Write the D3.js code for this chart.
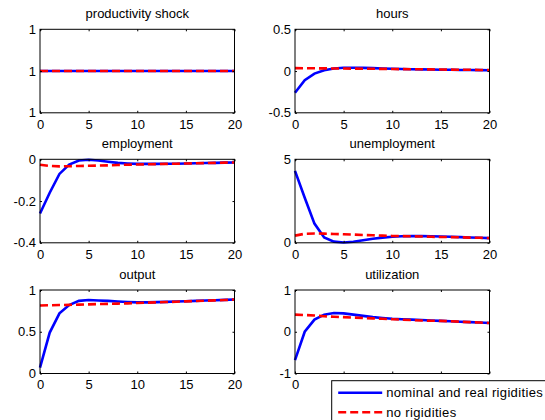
<!DOCTYPE html>
<html>
<head>
<meta charset="utf-8">
<script src="https://cdn.jsdelivr.net/npm/d3@7"></script>
<style>
  body { margin: 0; background: #fff; }
  svg { font-family: "Liberation Sans", Arial, sans-serif; }
</style>
</head>
<body>
<div id="chart"></div>
<script>
// quarters after the shock
const periods = [0,1,2,3,4,5,6,7,8,9,10,11,12,13,14,15,16,17,18,19,20];
const xTicks = [0, 5, 10, 15, 20];

const titles = ["productivity shock", "hours", "employment", "unemployment", "output", "utilization"];
const seriesNames = ["nominal and real rigidities", "no rigidities"];

// blue = nominal and real rigidities, red = no rigidities
const prodNom  = [1,1,1,1,1,1,1,1,1,1,1,1,1,1,1,1,1,1,1,1,1];
const prodNo   = [1,1,1,1,1,1,1,1,1,1,1,1,1,1,1,1,1,1,1,1,1];
const hoursNom = [-0.26,-0.11,-0.03,0.01,0.03,0.04,0.04,0.038,0.035,0.03,0.027,0.024,0.022,0.02,0.018,0.016,0.015,0.013,0.012,0.011,0.01];
const hoursNo  = [0.035,0.034,0.033,0.032,0.031,0.03,0.029,0.028,0.027,0.026,0.025,0.023,0.022,0.021,0.02,0.018,0.017,0.016,0.015,0.013,0.012];
const empNom   = [-0.26,-0.16,-0.07,-0.025,-0.006,-0.002,-0.006,-0.012,-0.017,-0.02,-0.022,-0.022,-0.022,-0.021,-0.021,-0.02,-0.019,-0.018,-0.017,-0.016,-0.015];
const empNo    = [-0.026,-0.032,-0.034,-0.033,-0.032,-0.031,-0.03,-0.029,-0.027,-0.026,-0.025,-0.024,-0.023,-0.022,-0.021,-0.02,-0.019,-0.018,-0.017,-0.016,-0.015];
const unempNom = [4.31,2.7,1.15,0.32,0.07,0.02,0.06,0.15,0.24,0.31,0.36,0.39,0.4,0.4,0.39,0.38,0.36,0.34,0.32,0.3,0.28];
const unempNo  = [0.43,0.54,0.56,0.55,0.53,0.51,0.49,0.47,0.45,0.43,0.41,0.4,0.39,0.38,0.36,0.35,0.34,0.33,0.31,0.3,0.28];
const outNom   = [0.07,0.49,0.72,0.82,0.87,0.88,0.875,0.87,0.862,0.856,0.852,0.852,0.855,0.858,0.862,0.866,0.87,0.874,0.878,0.882,0.886];
const outNo    = [0.815,0.817,0.82,0.822,0.825,0.828,0.831,0.834,0.837,0.84,0.845,0.848,0.852,0.856,0.86,0.864,0.868,0.872,0.876,0.88,0.886];
const utilNom  = [-0.68,0.0,0.29,0.41,0.45,0.44,0.41,0.38,0.35,0.33,0.31,0.3,0.29,0.28,0.27,0.26,0.25,0.24,0.23,0.22,0.21];
const utilNo   = [0.41,0.4,0.39,0.37,0.36,0.35,0.34,0.33,0.32,0.31,0.3,0.29,0.28,0.27,0.265,0.26,0.25,0.24,0.23,0.22,0.21];

// y ticks (first and last = axis limits)
const prodTicks  = [0.9999, 1, 1.0001];
const hoursTicks = [-0.5, 0, 0.5];
const empTicks   = [-0.4, -0.2, 0];
const unempTicks = [0, 5];
const outTicks   = [0, 0.5, 1];
const utilTicks  = [-1, 0, 1];

const panels = [
  {title: titles[0], nom: prodNom,  no: prodNo,  ticks: prodTicks},
  {title: titles[1], nom: hoursNom, no: hoursNo, ticks: hoursTicks},
  {title: titles[2], nom: empNom,   no: empNo,   ticks: empTicks},
  {title: titles[3], nom: unempNom, no: unempNo, ticks: unempTicks},
  {title: titles[4], nom: outNom,   no: outNo,   ticks: outTicks},
  {title: titles[5], nom: utilNom,  no: utilNo,  ticks: utilTicks}
];

const W = 545, H = 420;
const colX = [40, 295];
const rowY = [29.3, 159.3, 290];
const pw = 194.5, ph = 83.5;
const fontSize = 13;

const svg = d3.select("#chart").append("svg")
  .attr("width", W)
  .attr("height", H);

// matlab rounds the productivity ticks, so they all read "1"
const fmtTick = d => (d < 0 ? "-" : "") + d3.format(".2~f")(Math.abs(d));
const fmtProd = d => d3.format(".0f")(d);

panels.forEach((p, i) => {
  const col = i % 2, row = Math.floor(i / 2);
  const g = svg.append("g")
    .attr("transform", `translate(${colX[col]},${rowY[row]})`);

  const x = d3.scaleLinear().domain([0, 20]).range([0, pw]);
  const y = d3.scaleLinear().domain([p.ticks[0], p.ticks[p.ticks.length - 1]]).range([ph, 0]);

  const line = d3.line()
    .x((d, j) => x(periods[j]))
    .y(d => y(d));

  g.append("path")
    .attr("d", line(p.nom))
    .attr("fill", "none")
    .attr("stroke", "#0000ff")
    .attr("stroke-width", 2.6);
  g.append("path")
    .attr("d", line(p.no))
    .attr("fill", "none")
    .attr("stroke", "#ff0000")
    .attr("stroke-width", 2.6)
    .attr("stroke-dasharray", "8,4");

  // axes, ticks pointing inward like matlab
  g.append("g")
    .attr("class", "xlabels")
    .attr("transform", `translate(0,${ph})`)
    .call(d3.axisBottom(x).tickValues(xTicks).tickSize(-2).tickSizeOuter(0).tickPadding(6.5));
  g.append("g")
    .call(d3.axisTop(x).tickValues(xTicks).tickSize(-2).tickSizeOuter(0).tickFormat(""));
  g.append("g")
    .call(d3.axisLeft(y).tickValues(p.ticks).tickSize(-2).tickSizeOuter(0).tickPadding(4)
      .tickFormat(i === 0 ? fmtProd : fmtTick));
  g.append("g")
    .attr("transform", `translate(${pw},0)`)
    .call(d3.axisRight(y).tickValues(p.ticks).tickSize(-2).tickSizeOuter(0).tickFormat(""));

  g.selectAll(".domain").remove();
  g.selectAll(".tick line").attr("stroke", "#000");
  g.selectAll(".tick text")
    .attr("fill", "#000")
    .attr("font-size", fontSize)
    .attr("font-family", null);

  g.append("rect")
    .attr("width", pw)
    .attr("height", ph)
    .attr("fill", "none")
    .attr("stroke", "#000")
    .attr("stroke-width", 1);

  g.append("text")
    .attr("x", pw / 2)
    .attr("y", -11)
    .attr("text-anchor", "middle")
    .attr("font-size", fontSize)
    .text(p.title);
});

// legend, it sits over the bottom right panel's x labels
const legX = 331.7, legY = 380.7;
const leg = svg.append("g").attr("transform", `translate(${legX},${legY})`);
leg.append("rect")
  .attr("width", 230)
  .attr("height", 60)
  .attr("fill", "#fff")
  .attr("stroke", "#000")
  .attr("stroke-width", 1);
const legColors = ["#0000ff", "#ff0000"];
seriesNames.forEach((name, i) => {
  const ly = 12 + i * 19.6;
  leg.append("line")
    .attr("x1", 6.5).attr("x2", 50.5)
    .attr("y1", ly).attr("y2", ly)
    .attr("stroke", legColors[i])
    .attr("stroke-width", 2.6)
    .attr("stroke-dasharray", i === 1 ? "8,4" : null);
  leg.append("text")
    .attr("x", 54.5)
    .attr("y", ly)
    .attr("dy", "0.35em")
    .attr("font-size", fontSize)
    .attr("letter-spacing", 0.35)
    .text(name);
});

// tick labels hidden under the legend box are dropped
svg.selectAll(".xlabels .tick text").each(function() {
  const b = this.getBoundingClientRect();
  if (b.right > legX && b.bottom > legY) d3.select(this).remove();
});
</script>
</body>
</html>
